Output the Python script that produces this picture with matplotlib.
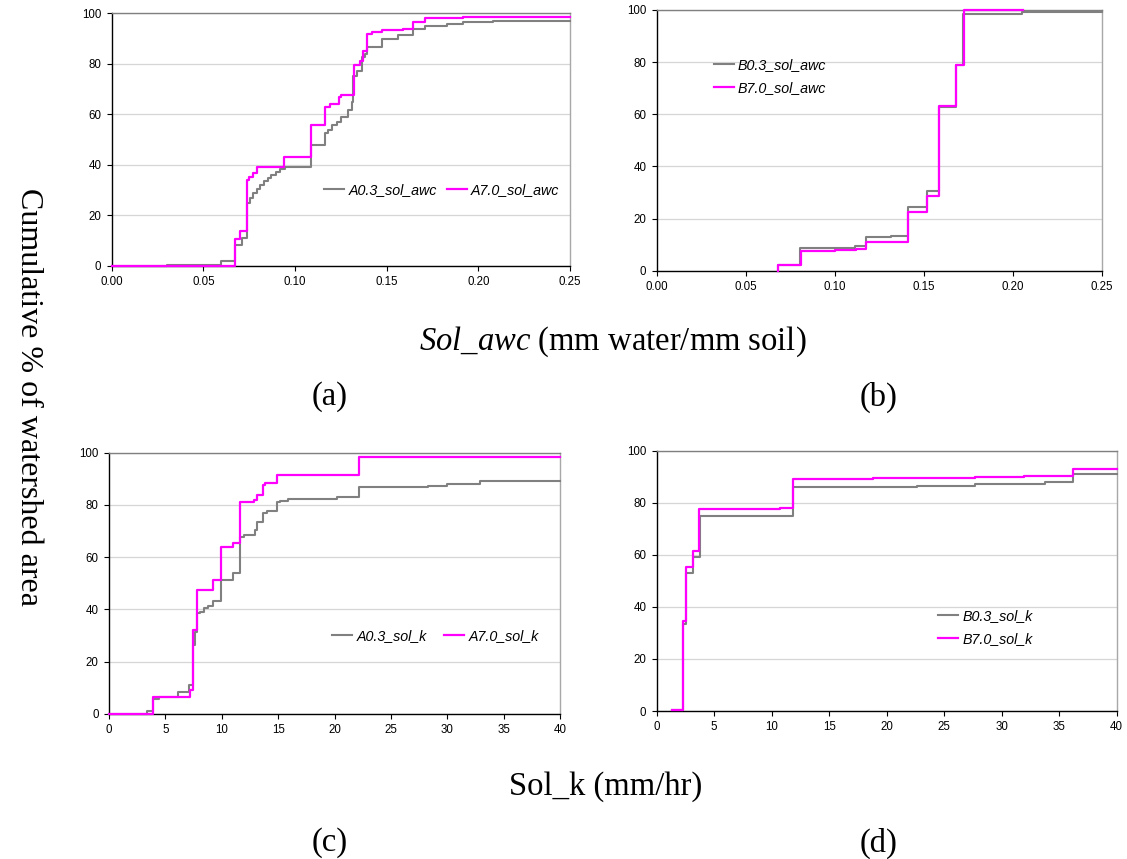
import matplotlib
matplotlib.use("Agg")
import matplotlib.pyplot as plt

plt.rcParams["mathtext.fontset"] = "custom"
plt.rcParams["mathtext.rm"] = "Liberation Serif"
plt.rcParams["mathtext.it"] = "Liberation Serif:italic"

# ---- data: cumulative % of watershed area vs. soil parameter ----
# panel (a): available water capacity, subbasin set A
a_x_03 = [0.000, 0.030, 0.0595, 0.0673, 0.0709, 0.0740, 0.0755, 0.0770, 0.0790, 0.0810,
          0.0830, 0.0850, 0.0870, 0.0895, 0.0920, 0.0945, 0.1000, 0.1085, 0.1165, 0.1180,
          0.1200, 0.1230, 0.1250, 0.1290, 0.1310, 0.1318, 0.1340, 0.1364, 0.1380, 0.1390,
          0.1473, 0.1564, 0.1645, 0.1710, 0.1827, 0.1918, 0.2080, 0.2500]
a_y_03 = [0.0, 0.3, 2.0, 8.3, 11.0, 24.8, 27.0, 29.0, 30.5, 32.0,
          33.5, 34.8, 36.0, 37.3, 38.4, 39.0, 39.3, 47.9, 52.5, 54.0,
          55.8, 57.0, 58.8, 61.7, 65.0, 75.0, 77.0, 82.8, 84.0, 86.5,
          89.8, 91.4, 93.7, 95.0, 95.8, 96.6, 96.8, 96.8]
a_x_70 = [0.000, 0.0673, 0.0700, 0.0740, 0.0750, 0.0770, 0.0790, 0.0940, 0.1085, 0.1165,
          0.1190, 0.1240, 0.1250, 0.1322, 0.1355, 0.1373, 0.1390, 0.1418, 0.1473, 0.1590,
          0.1645, 0.1710, 0.1840, 0.1918, 0.2500]
a_y_70 = [0.0, 10.5, 13.9, 34.0, 35.4, 37.0, 39.3, 43.3, 55.8, 63.0,
          64.0, 67.0, 67.7, 79.5, 81.0, 85.2, 92.0, 92.7, 93.4, 93.7,
          96.7, 98.0, 98.2, 98.4, 98.4]

# panel (b): available water capacity, subbasin set B
b_x_03 = [0.0684, 0.0684, 0.0805, 0.1114, 0.1176, 0.1315, 0.1410, 0.1520, 0.1586, 0.1680,
          0.1723, 0.2050, 0.2500]
b_y_03 = [0.0, 2.2, 8.6, 9.5, 12.8, 13.4, 24.6, 30.7, 62.9, 78.9,
          98.5, 99.1, 99.1]
b_x_70 = [0.0684, 0.0684, 0.0809, 0.1000, 0.1120, 0.1176, 0.1410, 0.1520, 0.1586, 0.1680,
          0.1727, 0.2060]
b_y_70 = [0.0, 2.2, 7.7, 7.9, 8.2, 10.9, 22.6, 28.8, 63.2, 78.9,
          100.0, 100.0]

# panel (c): saturated hydraulic conductivity, subbasin set A
c_x_03 = [0.0, 3.34, 3.93, 4.40, 6.15, 7.12, 7.42, 7.63, 7.83, 8.10,
          8.43, 8.80, 9.25, 9.90, 11.03, 11.62, 11.97, 12.95, 13.10, 13.63,
          13.98, 14.93, 15.17, 15.90, 20.20, 22.20, 28.30, 29.95, 32.90, 40.0]
c_y_03 = [0.0, 1.3, 5.6, 6.4, 8.3, 11.1, 26.4, 31.5, 38.5, 39.2,
          40.4, 41.3, 43.4, 51.3, 53.8, 67.9, 68.5, 70.4, 73.6, 77.0,
          77.8, 81.3, 81.6, 82.1, 82.9, 87.0, 87.2, 87.9, 89.3, 89.3]
c_x_70 = [0.0, 3.93, 7.18, 7.48, 7.78, 9.25, 9.90, 11.03, 11.62, 12.86,
          13.10, 13.63, 13.85, 14.93, 22.20, 32.90, 40.0]
c_y_70 = [0.0, 6.5, 9.2, 32.1, 47.4, 51.3, 64.0, 65.3, 81.0, 81.9,
          83.8, 87.6, 88.3, 91.5, 98.2, 98.5, 98.5]

# panel (d): saturated hydraulic conductivity, subbasin set B
d_x_03 = [1.30, 2.26, 2.55, 3.19, 3.77, 11.88, 18.26, 22.60, 27.70, 33.77, 36.20, 40.0]
d_y_03 = [0.4, 33.3, 52.9, 59.3, 74.9, 85.9, 86.2, 86.6, 87.1, 88.1, 90.9, 90.9]
d_x_70 = [1.30, 2.26, 2.55, 3.19, 3.71, 10.70, 11.88, 18.80, 27.70, 31.90, 36.20, 40.0]
d_y_70 = [0.2, 34.6, 55.4, 61.5, 77.5, 77.8, 89.0, 89.4, 89.8, 90.3, 92.8, 92.8]

awc_ticks = [0.00, 0.05, 0.10, 0.15, 0.20, 0.25]
awc_labels = ["0.00", "0.05", "0.10", "0.15", "0.20", "0.25"]
k_ticks = [0, 5, 10, 15, 20, 25, 30, 35, 40]
k_labels = ["0", "5", "10", "15", "20", "25", "30", "35", "40"]
pct_ticks = [0, 20, 40, 60, 80, 100]

GRAY = "#808080"
MAGENTA = "#ff00ff"
SANS = "Liberation Sans"
SERIF = "Liberation Serif"

W, H = 1127, 859
fig = plt.figure(figsize=(W / 100, H / 100), dpi=100)


def px_axes(left, top, right, bottom):
    return fig.add_axes([left / W, 1 - bottom / H, (right - left) / W, (bottom - top) / H])


def style(ax, xlim, xticks, xlabels):
    ax.set_xlim(*xlim)
    ax.set_ylim(0, 100)
    ax.set_xticks(xticks)
    ax.set_xticklabels(xlabels, fontsize=8.3, family=SANS)
    ax.set_yticks(pct_ticks)
    ax.set_yticklabels([str(t) for t in pct_ticks], fontsize=8.3, family=SANS)
    ax.tick_params(direction="out", length=3.5, width=0.8, pad=4, colors="black")
    ax.grid(axis="y", color="#d6d6d6", linewidth=0.9)
    ax.set_axisbelow(True)
    ax.spines["left"].set_color("black")
    ax.spines["bottom"].set_color("black")
    ax.spines["top"].set_color(GRAY)
    ax.spines["right"].set_color("#a8a8a8")
    for s in ax.spines.values():
        s.set_linewidth(1.0)


def draw(ax, x1, y1, x2, y2, lab1, lab2):
    ax.step(x1, y1, where="post", color=GRAY, lw=1.5, label=lab1, clip_on=False, zorder=3)
    ax.step(x2, y2, where="post", color=MAGENTA, lw=1.6, label=lab2, clip_on=False, zorder=4)


leg_kw = dict(frameon=False, prop={"family": SANS, "style": "italic", "size": 10.3},
              handlelength=1.4, handletextpad=0.3, borderpad=0, borderaxespad=0)

ax_a = px_axes(111.7, 13.3, 570.0, 266.0)
style(ax_a, (0, 0.25), awc_ticks, awc_labels)
draw(ax_a, a_x_03, a_y_03, a_x_70, a_y_70, "A0.3_sol_awc", "A7.0_sol_awc")
ax_a.legend(loc="center left", bbox_to_anchor=(0.463, 0.30), ncol=2, columnspacing=0.7, **leg_kw)

ax_b = px_axes(656.7, 10.0, 1101.7, 270.7)
style(ax_b, (0, 0.25), awc_ticks, awc_labels)
draw(ax_b, b_x_03, b_y_03, b_x_70, b_y_70, "B0.3_sol_awc", "B7.0_sol_awc")
ax_b.legend(loc="center left", bbox_to_anchor=(0.128, 0.745), ncol=1, labelspacing=0.6, **leg_kw)

ax_c = px_axes(109.0, 452.7, 560.0, 714.0)
style(ax_c, (0, 40), k_ticks, k_labels)
draw(ax_c, c_x_03, c_y_03, c_x_70, c_y_70, "A0.3_sol_k", "A7.0_sol_k")
ax_c.legend(loc="center left", bbox_to_anchor=(0.495, 0.30), ncol=2, columnspacing=1.2, **leg_kw)

ax_d = px_axes(656.7, 450.7, 1116.7, 711.0)
style(ax_d, (0, 40), k_ticks, k_labels)
draw(ax_d, d_x_03, d_y_03, d_x_70, d_y_70, "B0.3_sol_k", "B7.0_sol_k")
ax_d.legend(loc="center left", bbox_to_anchor=(0.611, 0.32), ncol=1, labelspacing=0.6, **leg_kw)


# shared labels
def ftext(x, y, s, size=23.5, **kw):
    fig.text(x / W, 1 - y / H, s, ha="center", va="center", family=SERIF, fontsize=size, **kw)


ftext(28, 397, "Cumulative % of watershed area", size=23, rotation=-90)
ftext(613, 342, r"$\mathit{Sol\_awc}$ (mm water/mm soil)")
ftext(606, 787, "Sol_k (mm/hr)")
ftext(330, 397, "(a)")
ftext(879, 397, "(b)")
ftext(330, 843, "(c)")
ftext(879, 843, "(d)")

fig.savefig("out.png", dpi=100, facecolor="white")
